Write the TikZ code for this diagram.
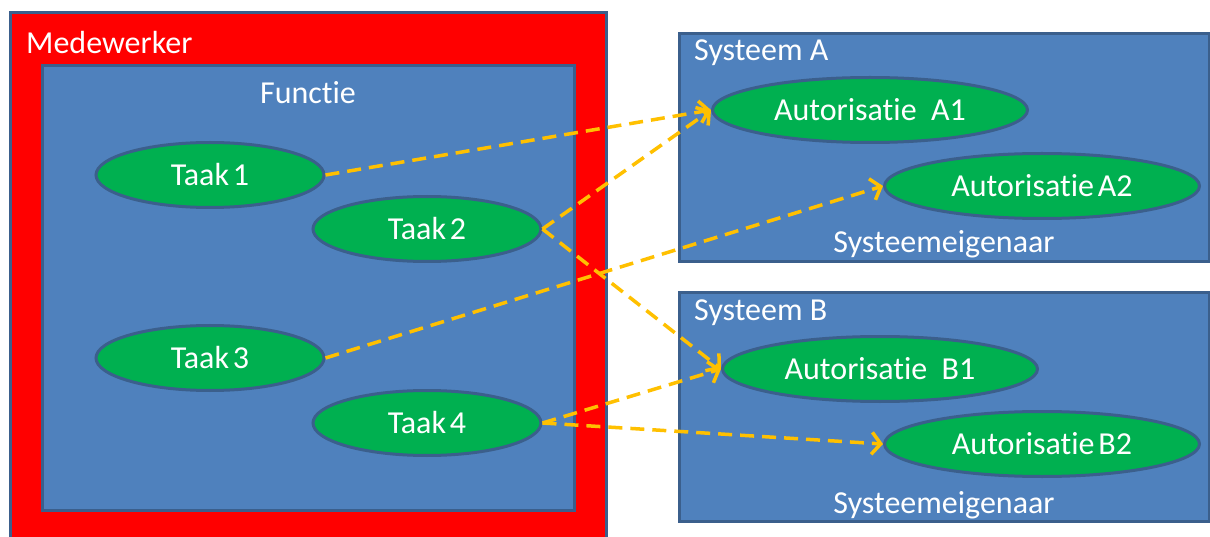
\documentclass[tikz,border=0pt]{standalone}
\usepackage{fontspec}
\setmainfont{Carlito}[Ligatures={NoCommon,NoContextual}]
\usetikzlibrary{shapes.geometric,arrows.meta}

\definecolor{boxblue}{HTML}{4F81BD}
\definecolor{edgeblue}{HTML}{3B5F8C}
\definecolor{taskgreen}{HTML}{00B050}
\definecolor{linkorange}{HTML}{FFC000}
\definecolor{outerred}{HTML}{FF0000}

\tikzset{
  panel/.style={draw=edgeblue, line width=3pt},
  role/.style={ellipse, draw=edgeblue, fill=taskgreen, line width=3pt,
    minimum width=228pt, minimum height=65pt, inner sep=0pt,
    text=white, font=\fontsize{32}{38}\selectfont},
  caption/.style={text=white, inner sep=0pt, font=\fontsize{32}{38}\selectfont},
  link/.style={draw=linkorange, line width=3.5pt, dash pattern=on 14pt off 8pt,
    -{Straight Barb[length=9pt,width=22pt,line width=3.5pt]}},
}

\begin{document}
\begin{tikzpicture}[x=1pt,y=-1pt]
\useasboundingbox (0,0) rectangle (1210,537);

% employee frame with function panel
\draw[panel, fill=outerred] (10,13) rectangle (606,545);
\draw[panel, fill=boxblue] (42,66) rectangle (574,510);
\node[caption, anchor=base west] (medewerker) at (26,54) {Medewerker};
\node[caption, anchor=base] (functie) at (308,104) {Functie};

% system panels
\draw[panel, fill=boxblue] (679,34) rectangle (1209,262);
\draw[panel, fill=boxblue] (679,293) rectangle (1209,521);
\node[caption, anchor=base west] (sysA) at (694,61) {Systeem A};
\node[caption, anchor=base west] (sysB) at (694,320) {Systeem B};
\node[caption, anchor=base] (ownerA) at (944,253) {Systeemeigenaar};
\node[caption, anchor=base] (ownerB) at (944,513) {Systeemeigenaar};

% tasks
\node[role] (t1) at (210,175) {Taak\hspace{0.12em}1};
\node[role] (t2) at (427,229) {Taak\hspace{0.12em}2};
\node[role] (t3) at (210,358) {Taak\hspace{0.12em}3};
\node[role] (t4) at (427,423) {Taak\hspace{0.12em}4};

% authorisations
\node[role, minimum width=315pt] (a1) at (870,110) {Autorisatie\ \ A1};
\node[role, minimum width=315pt] (a2) at (1042,186) {Autorisatie\hspace{0.12em}A2};
\node[role, minimum width=315pt] (b1) at (880,369) {Autorisatie\ \ B1};
\node[role, minimum width=315pt] (b2) at (1042,444) {Autorisatie\hspace{0.12em}B2};

% task to authorisation links
\draw[link] (t1.east) -- (a1.west);
\draw[link] (t2.east) -- (a1.west);
\draw[link] (t2.east) -- (b1.west);
\draw[link] (t3.east) -- (a2.west);
\draw[link] (t4.east) -- (b1.west);
\draw[link] (t4.east) -- (b2.west);
\end{tikzpicture}
\end{document}
